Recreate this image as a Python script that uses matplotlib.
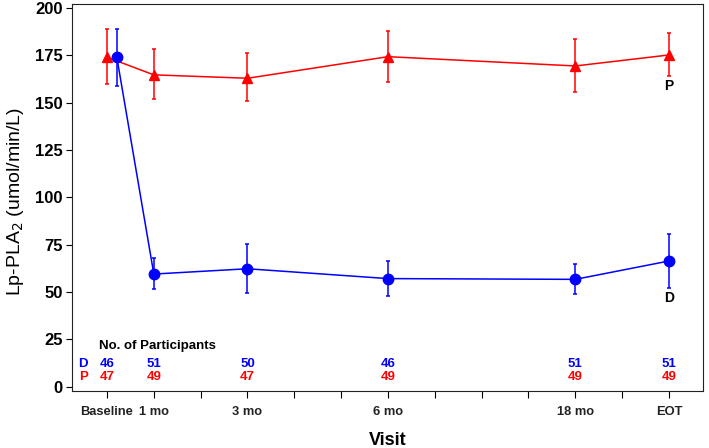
import matplotlib
matplotlib.use('Agg')
import matplotlib.pyplot as plt

# ---- data ----
visits = ['Baseline', '1 mo', '3 mo', '6 mo', '18 mo', 'EOT']
visit_pos = [0, 1, 3, 6, 10, 12]
minor_pos = [2, 4, 5, 7, 8, 9, 11]

d_mean = [174, 59.5, 62.3, 57.1, 56.7, 66.4]
d_low = [159, 51.4, 49.3, 48.1, 48.8, 52.0]
d_high = [189, 67.8, 75.2, 66.4, 64.6, 80.7]

p_mean = [174, 164.7, 162.9, 174.3, 169.4, 175.2]
p_low = [160, 152.0, 151.0, 161.0, 155.7, 164.3]
p_high = [189, 178.4, 176.0, 188.0, 183.5, 187.0]

d_n = [46, 51, 50, 46, 51, 51]
p_n = [47, 49, 47, 49, 49, 49]

yticks = [0, 25, 50, 75, 100, 125, 150, 175, 200]

plt.rcParams['font.family'] = ['Liberation Sans', 'DejaVu Sans']

fig = plt.figure(figsize=(7.09, 4.48), dpi=100)
ax = fig.add_axes([0.1011, 0.1279, 0.9915 - 0.1011, 0.991 - 0.1279])

d_x = [p + (0.21 if i == 0 else 0) for i, p in enumerate(visit_pos)]
p_x = list(visit_pos)

d_err = [[m - l for m, l in zip(d_mean, d_low)], [h - m for m, h in zip(d_mean, d_high)]]
p_err = [[m - l for m, l in zip(p_mean, p_low)], [h - m for m, h in zip(p_mean, p_high)]]

ax.errorbar(p_x, p_mean, yerr=p_err, color='#ff0000', marker='^', markersize=7.5,
            linewidth=1.1, elinewidth=1.1, capsize=1.2, capthick=1.1, zorder=3)
ax.errorbar(d_x, d_mean, yerr=d_err, color='#0000ff', marker='o', markersize=7.5,
            linewidth=1.1, elinewidth=1.1, capsize=1.2, capthick=1.1, zorder=4)

ax.text(visit_pos[-1], 159, 'P', ha='center', va='center', fontsize=10, fontweight='bold', color='black')
ax.text(visit_pos[-1], 47, 'D', ha='center', va='center', fontsize=10, fontweight='bold', color='black')

# participants table
ax.text(-0.17, 21.7, 'No. of Participants', ha='left', va='center', fontsize=9.5, fontweight='bold')
ax.text(-0.51, 11.9, 'D', ha='center', va='center', fontsize=9.5, fontweight='bold', color='#0000ff')
ax.text(-0.51, 5.2, 'P', ha='center', va='center', fontsize=9.5, fontweight='bold', color='#ff0000')
for x, dn, pn in zip(visit_pos, d_n, p_n):
    ax.text(x, 11.9, str(dn), ha='center', va='center', fontsize=9.5, fontweight='bold', color='#0000ff')
    ax.text(x, 5.2, str(pn), ha='center', va='center', fontsize=9.5, fontweight='bold', color='#ff0000')

ax.set_xlim(-0.754, 12.726)
ax.set_ylim(-2.1, 202.1)

ax.set_yticks(yticks)
ax.set_yticklabels([str(v) for v in yticks], fontsize=12, fontweight='bold')
ax.tick_params(axis='y', direction='out', length=4.3, width=0.8, pad=2)

all_ticks = sorted(visit_pos + minor_pos)
ax.set_xticks(all_ticks)
labels = [visits[visit_pos.index(t)] if t in visit_pos else '' for t in all_ticks]
ax.set_xticklabels(labels, fontsize=9.3, fontweight='bold', color='#222222')
ax.tick_params(axis='x', direction='out', length=5, width=0.8, pad=6)

for s in ax.spines.values():
    s.set_linewidth(0.8)
    s.set_color('#222222')

ax.set_xlabel('Visit', fontsize=13, fontweight='bold', labelpad=10)
ax.set_ylabel('Lp-PLA$_2$ (umol/min/L)', fontsize=14)
ax.yaxis.set_label_coords(-0.072, 0.49)

fig.savefig('out.png', dpi=100)
